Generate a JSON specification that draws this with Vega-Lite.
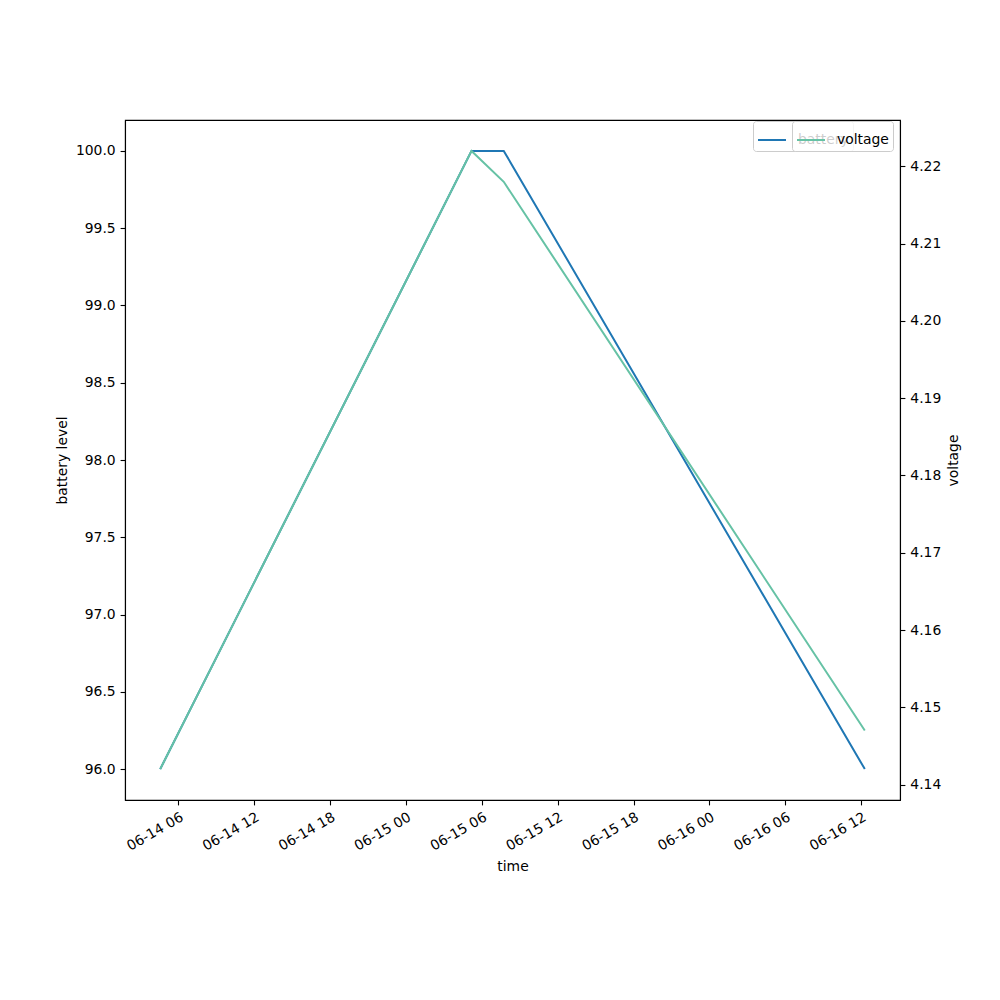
{
  "$schema": "https://vega.github.io/schema/vega-lite/v6.json",
  "width": 775,
  "height": 680,
  "autosize": {"type": "none"},
  "padding": {"left": 125, "top": 120, "right": 100, "bottom": 200},
  "background": "white",
  "config": {
    "font": "DejaVu Sans",
    "view": {"stroke": "black", "strokeWidth": 1.1},
    "axis": {
      "grid": false,
      "domainColor": "black",
      "tickColor": "black",
      "labelColor": "black",
      "titleColor": "black",
      "labelFontSize": 13.9,
      "titleFontSize": 13.9,
      "titleFontWeight": "normal",
      "tickSize": 4.9,
      "labelPadding": 4.9,
      "tickWidth": 1.1,
      "domainWidth": 1.1
    },
    "legend": {
      "symbolType": "stroke",
      "symbolSize": 784,
      "symbolStrokeWidth": 2,
      "labelFontSize": 13.9,
      "labelColor": "black",
      "labelOffset": 11,
      "padding": 4,
      "fillColor": "rgba(255,255,255,0.8)",
      "strokeColor": "#cccccc",
      "cornerRadius": 3
    }
  },
  "data": {
    "values": [
      {"time": "2024-06-14T04:34:00", "battery": 96, "voltage": 4.142},
      {"time": "2024-06-15T05:11:00", "battery": 100, "voltage": 4.222},
      {"time": "2024-06-15T07:44:00", "battery": 100, "voltage": 4.218},
      {"time": "2024-06-16T12:17:00", "battery": 96, "voltage": 4.147}
    ]
  },
  "layer": [
    {
      "mark": {"type": "line", "strokeWidth": 2},
      "encoding": {
        "x": {
          "field": "time",
          "type": "temporal",
          "scale": {
            "domain": [
              {"year": 2024, "month": 6, "date": 14, "hours": 1, "minutes": 47},
              {"year": 2024, "month": 6, "date": 16, "hours": 15, "minutes": 4}
            ]
          },
          "axis": {
            "title": "time",
            "format": "%m-%d %H",
            "values": [
              {"year": 2024, "month": 6, "date": 14, "hours": 6},
              {"year": 2024, "month": 6, "date": 14, "hours": 12},
              {"year": 2024, "month": 6, "date": 14, "hours": 18},
              {"year": 2024, "month": 6, "date": 15, "hours": 0},
              {"year": 2024, "month": 6, "date": 15, "hours": 6},
              {"year": 2024, "month": 6, "date": 15, "hours": 12},
              {"year": 2024, "month": 6, "date": 15, "hours": 18},
              {"year": 2024, "month": 6, "date": 16, "hours": 0},
              {"year": 2024, "month": 6, "date": 16, "hours": 6},
              {"year": 2024, "month": 6, "date": 16, "hours": 12}
            ],
            "labelAngle": -30,
            "labelAlign": "right",
            "labelBaseline": "top",
            "labelDx": -9,
            "labelDy": -4,
            "titlePadding": 6
          }
        },
        "y": {
          "field": "battery",
          "type": "quantitative",
          "scale": {"domain": [95.8, 100.2], "zero": false, "nice": false},
          "axis": {
            "title": "battery level",
            "orient": "left",
            "values": [96, 96.5, 97, 97.5, 98, 98.5, 99, 99.5, 100],
            "format": ".1f",
            "titlePadding": 6
          }
        },
        "color": {
          "datum": "battery",
          "type": "nominal",
          "scale": {"range": ["#1f77b4"]},
          "legend": {"title": null, "orient": "none", "legendX": 628, "legendY": 1}
        }
      }
    },
    {
      "mark": {"type": "line", "strokeWidth": 2},
      "encoding": {
        "x": {"field": "time", "type": "temporal"},
        "y": {
          "field": "voltage",
          "type": "quantitative",
          "scale": {"domain": [4.138, 4.226], "zero": false, "nice": false},
          "axis": {
            "title": "voltage",
            "orient": "right",
            "values": [4.14, 4.15, 4.16, 4.17, 4.18, 4.19, 4.2, 4.21, 4.22],
            "format": ".2f",
            "titleAngle": -90,
            "titleBaseline": "top",
            "titlePadding": 6
          }
        },
        "color": {
          "datum": "voltage",
          "type": "nominal",
          "scale": {"range": ["#66c2a5"]},
          "legend": {"title": null, "orient": "none", "legendX": 667, "legendY": 1}
        }
      }
    }
  ],
  "resolve": {"scale": {"y": "independent", "color": "independent"}}
}
